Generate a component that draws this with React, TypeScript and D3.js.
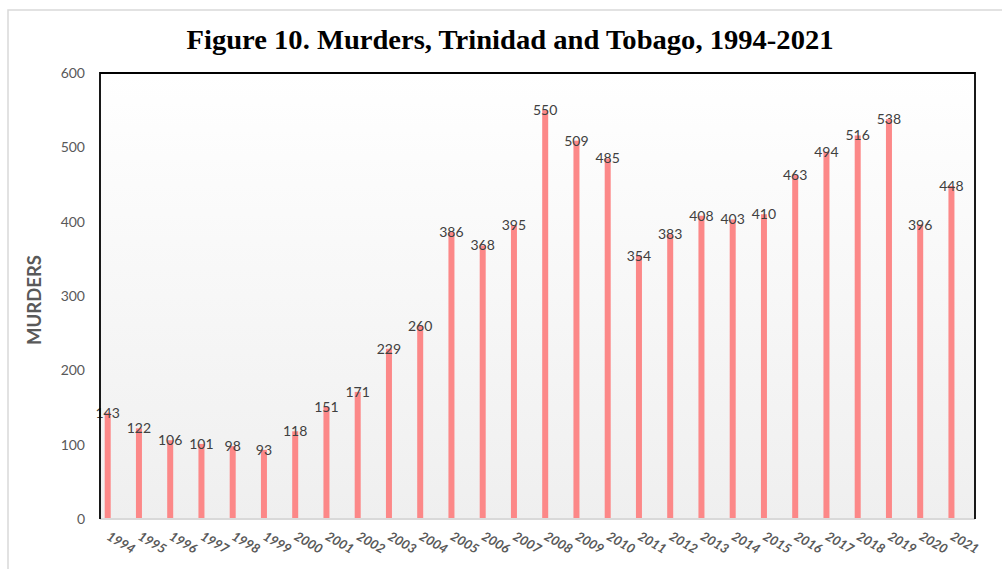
import React from "react";
import * as d3 from "d3";

const years = ["1994","1995","1996","1997","1998","1999","2000","2001","2002","2003","2004","2005","2006","2007","2008","2009","2010","2011","2012","2013","2014","2015","2016","2017","2018","2019","2020","2021"];
const murders = [143,122,106,101,98,93,118,151,171,229,260,386,368,395,550,509,485,354,383,408,403,410,463,494,516,538,396,448];
const yTicks = [0,100,200,300,400,500,600];
const title = "Figure 10. Murders, Trinidad and Tobago, 1994-2021";
const yTitle = "MURDERS";

export default function App() {
  const W = 1002, H = 569;
  const left = 100, right = 975, top = 73, bottom = 519;
  const x = d3.scaleBand<string>().domain(years).range([left, right]).paddingInner(0).paddingOuter(0);
  const y = d3.scaleLinear().domain([0, 600]).range([bottom, top]);
  const barW = 6;
  const offset = 7.7;
  const font = "Lato, 'Open Sans', sans-serif";
  return (
    <svg width={W} height={H} style={{ position: "absolute", left: 0, top: 0, background: "#fff" }}>
      <defs>
        <linearGradient id="bg" x1="0" y1="0" x2="0" y2="1">
          <stop offset="0" stopColor="#ffffff" />
          <stop offset="1" stopColor="#efefef" />
        </linearGradient>
      </defs>
      <rect x={0} y={0} width={W} height={H} fill="#fff" />
      <rect x={8} y={10} width={1010} height={600} fill="none" stroke="#d9d9d9" strokeWidth={1.5} />
      <text x={510} y={49} textAnchor="middle" fontFamily="'Liberation Serif', 'Times New Roman', serif" fontWeight="bold" fontSize={27} fill="#000" textLength={647} lengthAdjust="spacingAndGlyphs">{title}</text>
      <rect x={left} y={top} width={right - left} height={bottom - top} fill="url(#bg)" />
      {yTicks.map(t => (
        <text key={t} x={85} y={y(t)} dy="0.35em" textAnchor="end" fontFamily={font} fontSize={14} fill="#595959">{t}</text>
      ))}
      <text transform={`translate(41,${300}) rotate(-90)`} textAnchor="middle" fontFamily={font} fontWeight="bold" fontSize={18.5} fill="#595959">{yTitle}</text>
      {years.map((yr, i) => {
        const cx = (x(yr) as number) + offset;
        return (
          <g key={yr}>
            <rect x={cx - barW / 2} y={y(murders[i])} width={barW} height={bottom - y(murders[i])} fill="#fc8888" />
            <text x={cx} y={y(murders[i])} dy="0.35em" textAnchor="middle" fontFamily={font} fontSize={14} fill="#404040">{murders[i]}</text>
            <text transform={`translate(${cx - 2},${539}) rotate(30)`} fontFamily={font} fontWeight="bold" fontStyle="italic" fontSize={13} fill="#595959">{yr}</text>
          </g>
        );
      })}
      <line x1={left} x2={right} y1={bottom} y2={bottom} stroke="#d9d9d9" strokeWidth={2} />
      <path d={`M${left},${bottom}V${top}H${right}V${bottom}`} fill="none" stroke="#000" strokeWidth={1.8} />
    </svg>
  );
}
